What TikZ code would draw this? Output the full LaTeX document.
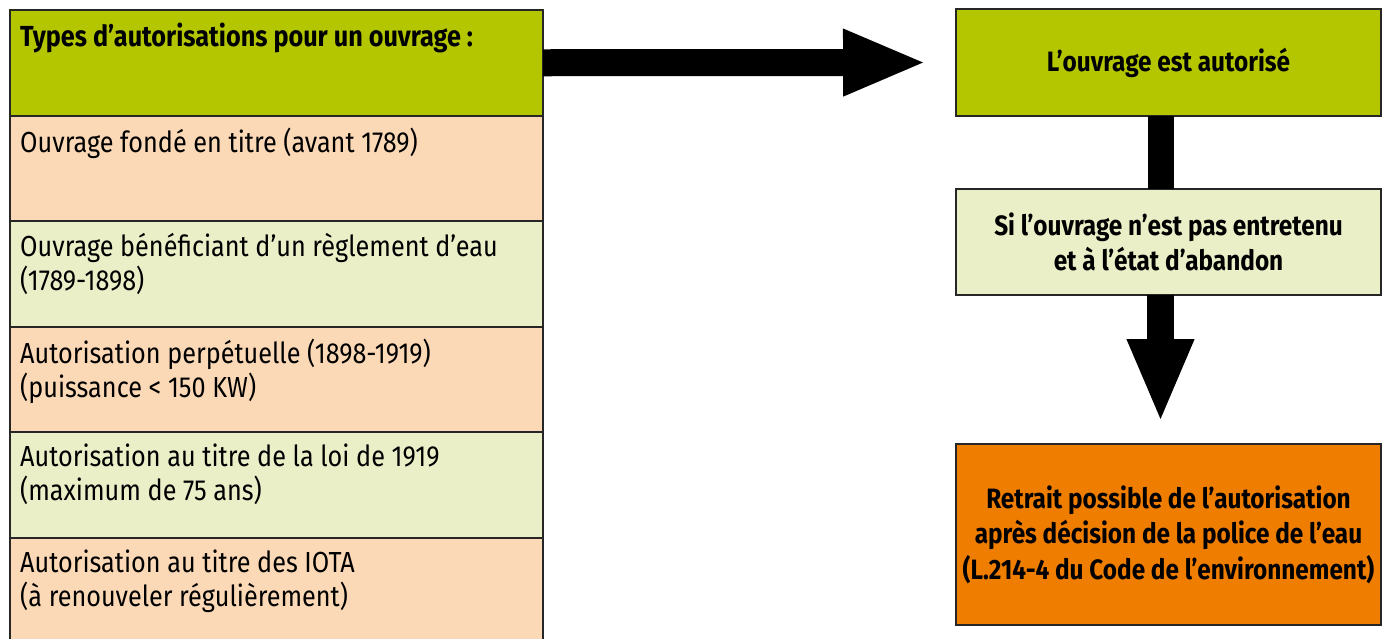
\documentclass[tikz,border=0pt]{standalone}
\usepackage{fontspec}
\setmainfont{Fira Sans}[FakeStretch=0.87]
\usetikzlibrary{positioning,arrows.meta}
\definecolor{vert}{RGB}{179,198,0}
\definecolor{peche}{RGB}{252,217,182}
\definecolor{vertclair}{RGB}{234,239,200}
\definecolor{orangefonce}{RGB}{239,125,0}
\tikzset{
  case/.style={draw=black!85, line width=2pt, minimum width=533pt, minimum height=105.5pt, inner sep=0pt, outer sep=0pt},
  texte/.style={anchor=north west, align=left, inner sep=0pt, font=\fontsize{29}{34}\selectfont, execute at begin node=\strut},
  boite/.style={draw=black!85, line width=2pt, minimum width=425pt, inner sep=0pt, outer sep=0pt, align=center, font=\bfseries\fontsize{28}{35.5}\selectfont},
  fleche/.style={line width=27pt, -{Triangle[length=84pt,width=61pt]}},
  barre/.style={line width=26pt}
}
\begin{document}
\begin{tikzpicture}[x=1pt,y=-1pt]
  \clip (0,0) rectangle (1383,638);
  \node[case, fill=vert, anchor=north west] (types) at (10,10) {};
  \node[case, fill=peche, below=0pt of types] (fonde) {};
  \node[case, fill=vertclair, below=0pt of fonde] (reglement) {};
  \node[case, fill=peche, below=0pt of reglement] (perpetuelle) {};
  \node[case, fill=vertclair, below=0pt of perpetuelle] (loi) {};
  \node[case, fill=peche, below=0pt of loi] (iota) {};

  \node[texte, font=\bfseries\fontsize{29}{34}\selectfont] (typestxt) at ([shift={(10,12)}]types.north west) {Types d’autorisations pour un ouvrage :};
  \node[texte] (fondetxt) at ([shift={(10,12)}]fonde.north west) {Ouvrage fondé en titre (avant 1789)};
  \node[texte] (reglementtxt) at ([shift={(10,12)}]reglement.north west) {Ouvrage bénéficiant d’un règlement d’eau\\(1789-1898)};
  \node[texte] (perpetuelletxt) at ([shift={(10,12)}]perpetuelle.north west) {Autorisation perpétuelle (1898-1919)\\(puissance < 150 KW)};
  \node[texte] (loitxt) at ([shift={(10,12)}]loi.north west) {Autorisation au titre de la loi de 1919\\(maximum de 75 ans)};
  \node[texte] (iotatxt) at ([shift={(10,12)}]iota.north west) {Autorisation au titre des IOTA\\(à renouveler régulièrement)};

  \node[boite, fill=vert, minimum height=107pt] (autor) at (1168.5,62.5) {L’ouvrage est autorisé};
  \node[boite, fill=vertclair, minimum height=106pt] (entretien) at (1168.5,242) {Si l’ouvrage n’est pas entretenu\\et à l’état d’abandon};
  \node[boite, fill=orangefonce, minimum height=181pt] (retrait) at (1168.5,534.5) {Retrait possible de l’autorisation\\après décision de la police de l’eau\\(L.214-4 du Code de l’environnement)};

  \draw[fleche, shorten >=29pt] (types.east) -- (autor.west);
  \draw[barre] ([xshift=-8pt]autor.south) -- ([xshift=-8pt]entretien.north);
  \draw[fleche, shorten >=21pt] ([xshift=-8pt]entretien.south) -- ([xshift=-8pt]retrait.north);
\end{tikzpicture}
\end{document}
